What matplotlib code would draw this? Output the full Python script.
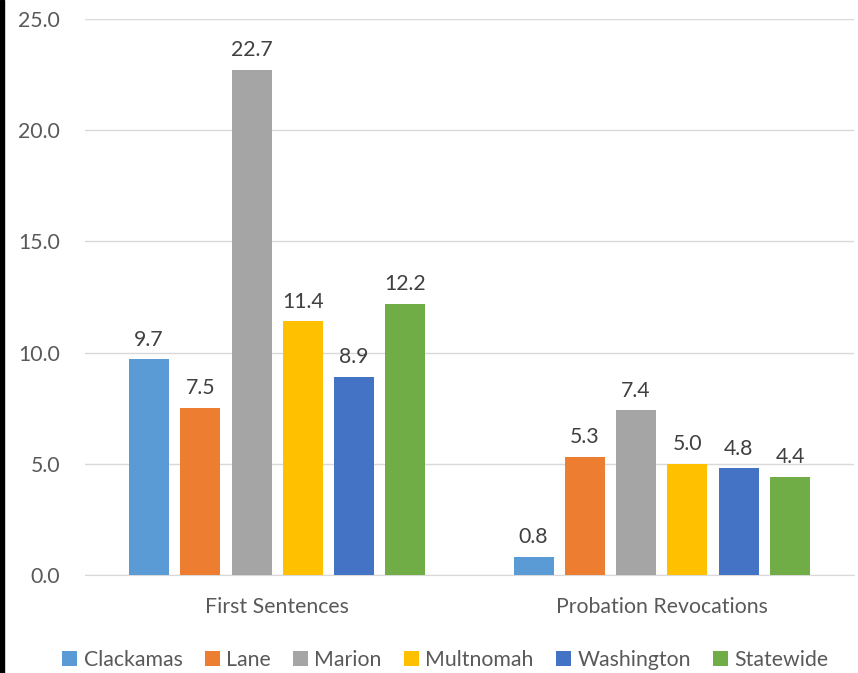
import matplotlib.pyplot as plt
import numpy as np
from matplotlib.patches import Rectangle

categories = ['First Sentences', 'Probation Revocations']
counties = ['Clackamas', 'Lane', 'Marion', 'Multnomah', 'Washington', 'Statewide']
values = {
    'Clackamas': [9.7, 0.8],
    'Lane': [7.5, 5.3],
    'Marion': [22.7, 7.4],
    'Multnomah': [11.4, 5.0],
    'Washington': [8.9, 4.8],
    'Statewide': [12.2, 4.4],
}
colors = ['#5B9BD5', '#ED7D31', '#A5A5A5', '#FFC000', '#4472C4', '#70AD47']
yticks = [0, 5, 10, 15, 20, 25]

plt.rcParams['font.family'] = ['Lato', 'DejaVu Sans']
txt = '#595959'
fs = 15.3

fig = plt.figure(figsize=(8.58, 6.73), dpi=100)
ax = fig.add_axes([85 / 858, 1 - 575 / 673, 769 / 858, 556 / 673])

x = np.arange(len(categories))
step = 0.1334
width = 0.104
for j, name in enumerate(counties):
    pos = x + (j - 2.5) * step
    bars = ax.bar(pos, values[name], width, color=colors[j], label=name, zorder=3)
    for b, v in zip(bars, values[name]):
        ax.annotate('%.1f' % v, (b.get_x() + b.get_width() / 2, v),
                    xytext=(0, 7), textcoords='offset points',
                    ha='center', va='bottom', fontsize=fs, color='#404040')

ax.set_xlim(-0.5, 1.5)
ax.set_ylim(0, 25)
ax.set_yticks(yticks)
ax.set_yticklabels(['%.1f' % t for t in yticks], fontsize=fs, color=txt)
ax.set_xticks(x)
ax.set_xticklabels(categories, fontsize=fs, color=txt)
ax.tick_params(axis='both', length=0)
ax.tick_params(axis='y', pad=18)
ax.tick_params(axis='x', pad=16)
ax.grid(axis='y', color='#D9D9D9', linewidth=1, zorder=0)
for s in ['top', 'right', 'left']:
    ax.spines[s].set_visible(False)
ax.spines['bottom'].set_color('#D9D9D9')

ax.legend(loc='center', bbox_to_anchor=(0.5 - 24 / 769, -0.152), ncol=6, frameon=False,
          fontsize=fs, handlelength=0.7, handleheight=0.7, handletextpad=0.3,
          columnspacing=1.05, labelcolor=txt)

# dark strip along the left edge of the screenshot
fig.patches.append(Rectangle((0, 0), 4 / 858, 1, transform=fig.transFigure,
                             color='black', zorder=10))

fig.savefig('out.png', dpi=100)
